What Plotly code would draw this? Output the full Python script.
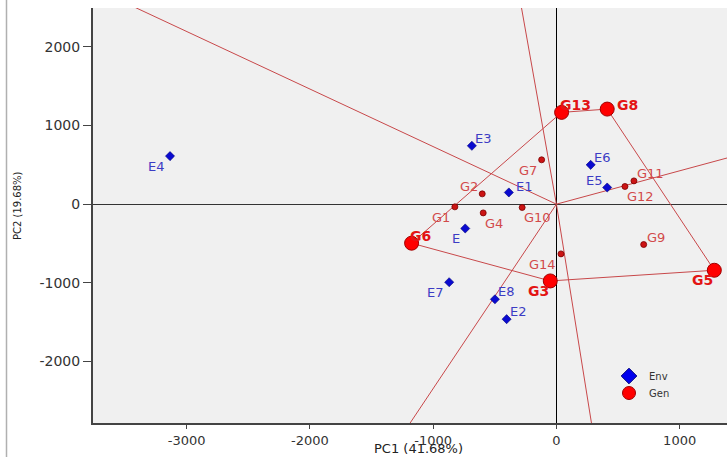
import numpy as np
import plotly.graph_objects as go

# ---------------- data ----------------
env_names = ["E", "E1", "E2", "E3", "E4", "E5", "E6", "E7", "E8"]
env_pc1 = [-740, -386, -404, -686, -3135, 412, 278, -870, -499]
env_pc2 = [-309, 149, -1462, 742, 611, 212, 500, -992, -1209]

gen_names = ["G1", "G2", "G3", "G4", "G5", "G6", "G7", "G8", "G9", "G10",
             "G11", "G12", "G13", "G14"]
gen_pc1 = [-824, -602, -50, -594, 1281, -1175, -120, 412, 708, -278,
           629, 556, 42, 37]
gen_pc2 = [-34, 131, -976, -111, -840, -496, 564, 1209, -513, -42,
           296, 225, 1167, -632]

x_ticks = [-3000, -2000, -1000, 0, 1000]
y_ticks = [-2000, -1000, 0, 1000, 2000]
x_title = "PC1 (41.68%)"
y_title = "PC2 (19.68%)"
legend_names = ["Env", "Gen"]

# ---------------- style / layout ----------------
env_label_pos = ["ll", "r", "ur", "ur", "ll", "ul", "ur", "ll", "ur"]
gen_label_pos = ["ll", "ul", "ll", "lr", "ll", "ur", "ll", "r", "ur", "lr",
                 "ur", "lr", "ur", "ll"]

FONT = "DejaVu Sans"
LINE_COL = "#c8484a"
W, H = 727, 457
ML, MR, MT, MB = 93, 0, 8, 34
X_RANGE = [-3760, 1384]
Y_RANGE = [-2782, 2494]


def convex_hull(points):
    pts = sorted(set(points))

    def cross(o, a, b):
        return (a[0] - o[0]) * (b[1] - o[1]) - (a[1] - o[1]) * (b[0] - o[0])

    lower = []
    for p in pts:
        while len(lower) >= 2 and cross(lower[-2], lower[-1], p) <= 0:
            lower.pop()
        lower.append(p)
    upper = []
    for p in reversed(pts):
        while len(upper) >= 2 and cross(upper[-2], upper[-1], p) <= 0:
            upper.pop()
        upper.append(p)
    return lower[:-1] + upper[:-1]


gen_pts = list(zip(gen_pc1, gen_pc2))
hull = convex_hull(gen_pts)  # counter-clockwise
hull_set = set(hull)
is_vertex = [p in hull_set for p in gen_pts]

# hull polygon
hx = [p[0] for p in hull] + [hull[0][0]]
hy = [p[1] for p in hull] + [hull[0][1]]

# perpendicular rays from origin to each hull edge
rx, ry = [], []
for i in range(len(hull)):
    a = np.array(hull[i], float)
    b = np.array(hull[(i + 1) % len(hull)], float)
    d = b - a
    n = np.array([d[1], -d[0]])
    n = n / np.linalg.norm(n)
    end = n * 20000
    rx += [0, end[0], None]
    ry += [0, end[1], None]

fig = go.Figure()

fig.add_trace(go.Scatter(x=rx, y=ry, mode="lines",
                         line=dict(color=LINE_COL, width=1),
                         showlegend=False, hoverinfo="skip"))
fig.add_trace(go.Scatter(x=hx, y=hy, mode="lines",
                         line=dict(color=LINE_COL, width=1),
                         showlegend=False, hoverinfo="skip"))

fig.add_trace(go.Scatter(
    x=env_pc1, y=env_pc2, mode="markers", text=env_names,
    marker=dict(symbol="diamond", size=7, color="#0a0ad0",
                line=dict(color="#00007a", width=0.6)),
    showlegend=False))

small_x = [x for x, v in zip(gen_pc1, is_vertex) if not v]
small_y = [y for y, v in zip(gen_pc2, is_vertex) if not v]
big_x = [x for x, v in zip(gen_pc1, is_vertex) if v]
big_y = [y for y, v in zip(gen_pc2, is_vertex) if v]

fig.add_trace(go.Scatter(
    x=small_x, y=small_y, mode="markers",
    marker=dict(symbol="circle", size=6, color="#cc1414",
                line=dict(color="#7a0000", width=0.8)),
    showlegend=False))
fig.add_trace(go.Scatter(
    x=big_x, y=big_y, mode="markers",
    marker=dict(symbol="circle", size=14, color="#ff0000",
                line=dict(color="#a00000", width=1)),
    showlegend=False))

# legend entries
fig.add_trace(go.Scatter(
    x=[None], y=[None], mode="markers", name=legend_names[0],
    legend="legend",
    marker=dict(symbol="diamond", size=12, color="#0000ee",
                line=dict(color="#00007a", width=1))))
fig.add_trace(go.Scatter(
    x=[None], y=[None], mode="markers", name=legend_names[1],
    legend="legend2",
    marker=dict(symbol="circle", size=13, color="#ff0000",
                line=dict(color="#a00000", width=1))))

# label annotations
small_pos = {
    "ur": dict(xanchor="left", yanchor="bottom", xshift=1, yshift=-2),
    "ul": dict(xanchor="right", yanchor="bottom", xshift=-2, yshift=-2),
    "ll": dict(xanchor="right", yanchor="top", xshift=-3, yshift=-1),
    "lr": dict(xanchor="left", yanchor="top", xshift=0, yshift=-1),
    "r": dict(xanchor="left", yanchor="bottom", xshift=5, yshift=-4),
}
big_pos = {
    "ur": dict(xanchor="left", yanchor="bottom", xshift=-4, yshift=-3),
    "ll": dict(xanchor="right", yanchor="top", xshift=1, yshift=0),
    "r": dict(xanchor="left", yanchor="middle", xshift=8, yshift=4),
}

annotations = []
for name, x, y, pos in zip(env_names, env_pc1, env_pc2, env_label_pos):
    annotations.append(dict(x=x, y=y, text=name, showarrow=False,
                            font=dict(family=FONT, size=13, color="#3c3cc4"),
                            **small_pos[pos]))
for name, x, y, pos, v in zip(gen_names, gen_pc1, gen_pc2, gen_label_pos,
                              is_vertex):
    if v:
        annotations.append(dict(x=x, y=y, text="<b>" + name + "</b>",
                                showarrow=False,
                                font=dict(family=FONT, size=14,
                                          color="#e31414"),
                                **big_pos[pos]))
    else:
        annotations.append(dict(x=x, y=y, text=name, showarrow=False,
                                font=dict(family=FONT, size=13,
                                          color="#d24a4a"),
                                **small_pos[pos]))

# axis titles
pw = W - ML - MR
ph = H - MT - MB
annotations.append(dict(x=(418 - ML) / pw, y=-(457 - (H - MB)) / ph,
                        xref="paper", yref="paper", text=x_title,
                        showarrow=False, xanchor="center", yanchor="bottom",
                        borderpad=0,
                        font=dict(family=FONT, size=13, color="#222")))
annotations.append(dict(x=(18 - ML) / pw, y=(H - MB - 206) / ph,
                        xref="paper", yref="paper", text=y_title,
                        textangle=-90, showarrow=False, xanchor="center",
                        yanchor="middle",
                        font=dict(family=FONT, size=10, color="#222")))

# figure border line on the left
shapes = [dict(type="line", xref="paper", yref="paper",
               x0=(6.5 - ML) / pw, x1=(6.5 - ML) / pw,
               y0=-MB / ph, y1=1 + MT / ph,
               line=dict(color="#b0b0b0", width=1.5))]

legend_style = dict(xanchor="left", yanchor="middle",
                    bgcolor="rgba(0,0,0,0)",
                    font=dict(family=FONT, size=10, color="#333"))

fig.update_layout(
    width=W, height=H,
    margin=dict(l=ML, r=MR, t=MT, b=MB, pad=0),
    paper_bgcolor="white", plot_bgcolor="#f0f0f0",
    annotations=annotations, shapes=shapes,
    showlegend=True,
    legend=dict(x=(609 - ML) / pw, y=(H - MB - 376) / ph, **legend_style),
    legend2=dict(x=(609 - ML) / pw, y=(H - MB - 393) / ph, **legend_style),
    font=dict(family=FONT, color="#333"),
)

fig.update_xaxes(range=X_RANGE, tickvals=x_ticks,
                 ticktext=[str(v) for v in x_ticks],
                 showgrid=False, zeroline=True, zerolinecolor="#000",
                 zerolinewidth=1, showline=True, linecolor="#444",
                 linewidth=2, ticks="outside", ticklen=4, tickcolor="#444",
                 tickfont=dict(family=FONT, size=13, color="#333"))
fig.update_yaxes(range=Y_RANGE, tickvals=y_ticks,
                 ticktext=[str(v) for v in y_ticks],
                 showgrid=False, zeroline=True, zerolinecolor="#333",
                 zerolinewidth=1, showline=True, linecolor="#444",
                 linewidth=2, ticks="outside", ticklen=8, tickcolor="#444",
                 tickfont=dict(family=FONT, size=14, color="#333"))

fig.write_html("out.html",
               config={"displayModeBar": False},
               post_script="document.body.style.margin='0px';"
                           "document.body.style.overflow='hidden';")
